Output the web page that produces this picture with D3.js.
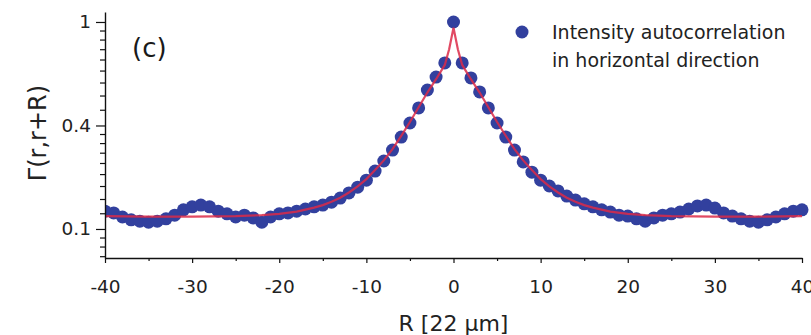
<!DOCTYPE html>
<html>
<head>
<meta charset="utf-8">
<script src="https://cdn.jsdelivr.net/npm/d3@7"></script>
<style>
  html, body { margin: 0; padding: 0; background: #fff; }
  svg { display: block; }
</style>
</head>
<body>
<svg id="chart" width="811" height="335"></svg>
<script>
// ---------------- DATA ----------------
const lagR = [-40,-39,-38,-37,-36,-35,-34,-33,-32,-31,-30,-29,-28,-27,-26,-25,-24,-23,-22,-21,
  -20,-19,-18,-17,-16,-15,-14,-13,-12,-11,-10,-9,-8,-7,-6,-5,-4,-3,-2,-1,
  0,1,2,3,4,5,6,7,8,9,10,11,12,13,14,15,16,17,18,19,20,
  21,22,23,24,25,26,27,28,29,30,31,32,33,34,35,36,37,38,39,40];
const autocorr = [0.138,0.134,0.125,0.119,0.116,0.114,0.116,0.121,0.129,0.141,
  0.148,0.152,0.148,0.138,0.132,0.125,0.129,0.123,0.114,0.125,
  0.132,0.134,0.138,0.143,0.148,0.152,0.159,0.169,0.182,0.197,
  0.216,0.242,0.273,0.309,0.355,0.410,0.475,0.561,0.630,0.712,
  1.000,
  0.712,0.625,0.551,0.475,0.410,0.355,0.309,0.270,0.239,0.216,
  0.200,0.187,0.174,0.164,0.155,0.148,0.141,0.136,0.129,0.127,
  0.121,0.116,0.123,0.129,0.132,0.136,0.143,0.150,0.152,0.145,
  0.134,0.127,0.121,0.116,0.114,0.119,0.125,0.132,0.138,0.141];

const fitR = [-40,-35,-30,-25,-22,-20,-18,-16,-15,-14,-13,-12,-11,-10,-9,-8,-7,-6,-5,-4,-3,-2,-1,-0.5,
  0,0.5,1,2,3,4,5,6,7,8,9,10,11,12,13,14,15,16,18,20,22,25,30,35,40];
const fitV = [0.127,0.126,0.126,0.127,0.129,0.132,0.137,0.146,0.152,0.160,0.170,0.183,0.199,0.219,0.245,0.275,0.312,0.360,0.414,0.478,0.548,0.618,0.700,0.800,
  0.955,0.800,0.700,0.618,0.548,0.478,0.414,0.360,0.312,0.275,0.245,0.219,0.199,0.183,0.170,0.160,0.152,0.146,0.137,0.132,0.129,0.127,0.126,0.126,0.127];

const xMajorTicks = [-40,-30,-20,-10,0,10,20,30,40];
const xMinorTicks = [-35,-25,-15,-5,5,15,25,35];
const yMajorTicks = [1,0.4,0.1];
const yMinorTicks = [0.9333,0.8667,0.8,0.7333,0.6667,0.6,0.5333,0.4667,
  0.3667,0.3333,0.3,0.2667,0.2333,0.2,0.1667,0.1333,
  0.0833,0.0667,0.05];
const xDomain = [-40, 40];
const yDomain = [0.047, 1.083];

const legendLines = ["Intensity autocorrelation", "in horizontal direction"];
const panelLabel = "(c)";
const xTitle = "R [22 \u03bcm]";
const yTitle = "\u0393(r,r+R)";

// ---------------- LAYOUT ----------------
const plot = { left: 105, right: 802, top: 12, bottom: 258 };
const FONT = "'DejaVu Sans', 'Liberation Sans', Arial, sans-serif";
const TEXT = "#222";
const BLUE = "#32409e";
const RED = "#dc2a48";

const svg = d3.select("#chart");

const x = d3.scaleLinear().domain(xDomain).range([plot.left, plot.right]);
const y = d3.scaleSymlog().constant(0.2).domain(yDomain).range([plot.bottom, plot.top]);

// clip
svg.append("defs").append("clipPath").attr("id", "clip")
  .append("rect").attr("x", plot.left).attr("y", 0)
  .attr("width", 811 - plot.left).attr("height", plot.bottom);

// data points
const pts = lagR.map((r, i) => ({ r, v: autocorr[i] }));
svg.append("g").attr("clip-path", "url(#clip)")
  .selectAll("circle").data(pts).join("circle")
  .attr("cx", d => x(d.r)).attr("cy", d => y(d.v)).attr("r", 6.5)
  .attr("fill", BLUE);

// fit line
const fitPts = fitR.map((r, i) => ({ r, v: fitV[i] }));
svg.append("path").datum(fitPts)
  .attr("clip-path", "url(#clip)")
  .attr("fill", "none").attr("stroke", RED).attr("stroke-width", 2.2)
  .attr("stroke-opacity", 0.85)
  .attr("d", d3.line().x(d => x(d.r)).y(d => y(d.v)));

// axes
function styleAxis(g, fs) {
  g.selectAll("path.domain").attr("stroke", "#111").attr("stroke-width", 1.4);
  g.selectAll(".tick line").attr("stroke", "#111").attr("stroke-width", 1.2);
  g.selectAll(".tick text").attr("fill", TEXT).attr("font-family", FONT).attr("font-size", fs);
}

const gxMinor = svg.append("g").attr("transform", `translate(0,${plot.bottom})`)
  .call(d3.axisBottom(x).tickValues(xMinorTicks).tickSize(3).tickSizeOuter(0).tickFormat(""));
gxMinor.select("path.domain").remove();
styleAxis(gxMinor, 18);

const gx = svg.append("g").attr("transform", `translate(0,${plot.bottom})`)
  .call(d3.axisBottom(x).tickValues(xMajorTicks).tickSize(5).tickSizeOuter(0).tickPadding(17)
    .tickFormat(d => String(d)));
styleAxis(gx, 18.5);

const gyMinor = svg.append("g").attr("transform", `translate(${plot.left},0)`)
  .call(d3.axisLeft(y).tickValues(yMinorTicks).tickSize(5).tickSizeOuter(0).tickFormat(""));
gyMinor.select("path.domain").remove();
styleAxis(gyMinor, 18);

const gy = svg.append("g").attr("transform", `translate(${plot.left},0)`)
  .call(d3.axisLeft(y).tickValues(yMajorTicks).tickSize(9).tickSizeOuter(0).tickPadding(5)
    .tickFormat(d => String(d)));
styleAxis(gy, 18.5);

// axis titles
svg.append("text").attr("x", x(0)).attr("y", 331)
  .attr("text-anchor", "middle").attr("font-family", FONT).attr("font-size", 22)
  .attr("fill", TEXT).text(xTitle);

svg.append("text").attr("transform", "translate(46,133) rotate(-90)")
  .attr("text-anchor", "middle").attr("font-family", FONT).attr("font-size", 24)
  .attr("fill", TEXT).text(yTitle);

// panel label
svg.append("text").attr("x", 132).attr("y", 57)
  .attr("font-family", FONT).attr("font-size", 26).attr("fill", "#1a1a1a").text(panelLabel);

// legend
svg.append("circle").attr("cx", 522).attr("cy", 32).attr("r", 6.5).attr("fill", BLUE);
svg.append("g").selectAll("text").data(legendLines).join("text")
  .attr("x", 552).attr("y", (d, i) => 39 + i * 28)
  .attr("font-family", FONT).attr("font-size", 19).attr("fill", TEXT)
  .text(d => d);
</script>
</body>
</html>
